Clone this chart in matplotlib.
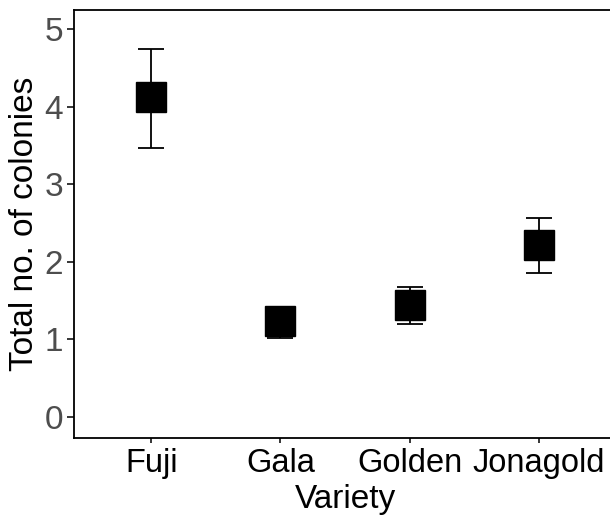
import matplotlib
matplotlib.use("Agg")
from matplotlib import pyplot as plt

plt.rcParams['font.family'] = ['Liberation Sans', 'DejaVu Sans']

# values
varieties = ["Fuji", "Gala", "Golden", "Jonagold"]
means = [4.13, 1.235, 1.445, 2.22]
err_low = [0.66, 0.225, 0.25, 0.36]
err_high = [0.62, 0.12, 0.225, 0.35]

fig = plt.figure(figsize=(6.1, 5.17), dpi=100)
ax = fig.add_axes([74/610, 79/517, 542/610, 428/517])

x = list(range(1, len(varieties) + 1))
ax.errorbar(x, means, yerr=[err_low, err_high], fmt='none', ecolor='black',
            elinewidth=1.3, capsize=9.4, capthick=1.3, zorder=2)
ax.plot(x, means, 's', color='black', markersize=21.5, zorder=3)

ax.set_xlim(0.4, 4.6)
ax.set_ylim(-0.275, 5.25)
ax.set_xticks(x)
ax.set_xticklabels(varieties, fontsize=23.5, color='black')
ax.set_yticks([0, 1, 2, 3, 4, 5])
ax.tick_params(axis='y', labelsize=24, labelcolor='#4D4D4D', length=5, width=1.1, pad=3)
ax.tick_params(axis='x', length=3.5, width=1.1, pad=4)

ax.set_xlabel("Variety", fontsize=24, labelpad=3)
ax.set_ylabel("Total no. of colonies", fontsize=24, labelpad=3)

for s in ['left', 'bottom', 'top']:
    ax.spines[s].set_linewidth(1.3)
ax.spines['right'].set_visible(False)

fig.savefig("out.png", dpi=100)
